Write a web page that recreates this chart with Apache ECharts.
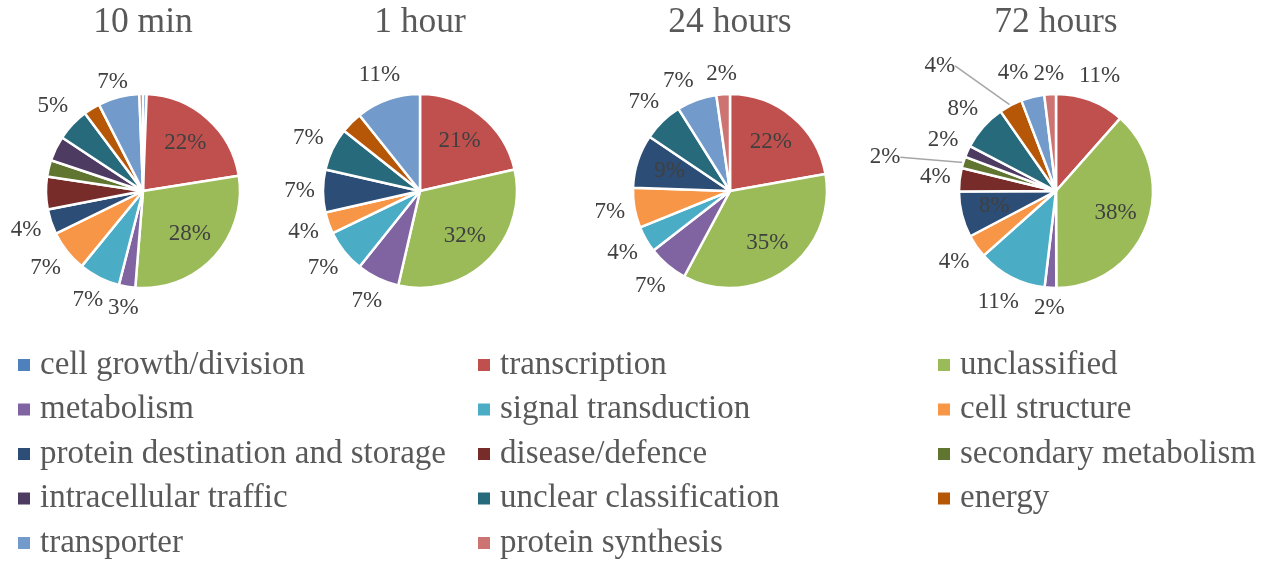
<!DOCTYPE html>
<html><head><meta charset="utf-8">
<script src="https://cdn.jsdelivr.net/npm/echarts@6/dist/echarts.min.js"></script>
<style>html,body{margin:0;padding:0;background:#fff}#c{width:1275px;height:562px}</style>
</head><body><div id="c"></div>
<script>
// ---- data ----
const categories = ['cell growth/division','transcription','unclassified','metabolism','signal transduction','cell structure','protein destination and storage','disease/defence','secondary metabolism','intracellular traffic','unclear classification','energy','transporter','protein synthesis'];
const pieTitles = ['10 min','1 hour','24 hours','72 hours'];
const values10min   = [0.6, 21.6, 28.4, 2.7, 6.8, 6.8, 4.1, 5.4, 2.7, 4.1, 5.4, 2.7, 6.8, 0.6];
const values1hour   = [0, 21.4, 32.1, 7.1, 7.1, 3.6, 7.1, 0, 0, 0, 7.1, 3.6, 10.7, 0];
const values24hours = [0, 21.7, 34.8, 6.5, 4.3, 6.5, 8.7, 0, 0, 0, 6.5, 0, 6.5, 2.2];
const values72hours = [0, 11.3, 37.7, 1.9, 11.3, 3.8, 7.5, 3.8, 1.9, 1.9, 7.5, 3.8, 3.8, 1.9];
const pieValues = [values10min, values1hour, values24hours, values72hours];

// ---- style ----
const colors = ['#4F81BD','#C0504D','#9BBB59','#8064A2','#4BACC6','#F79646','#2C4D75','#772C2A','#5F7530','#4D3B62','#276A7C','#B65708','#729ACA','#CD7371'];
const centersX = [143, 420, 730, 1056];
const centerY = 191, R = 97, LABEL_GAP = 8;
const insideLabels = [[1,2],[1,2],[1,2,6],[2,6]];
const hiddenLabels = [[0,7,8,9,11,13],[11],[],[]];
// label nudges: pie index -> category index -> {extra distance, angle shift, leader line}
const labelNudges = [
  {12:{extra:-7, rot:-1}},
  {},
  {12:{extra:0, rot:-5}},
  {8:{extra:52, rot:-6, line:true}, 11:{extra:47, rot:-15, line:true}, 12:{extra:5, rot:-6}}
];
const FONT = 'Liberation Serif';
const fmt = p => Math.round(p.value) + '%';

const series = [];
const overlays = [];
pieValues.forEach((vals, p) => {
  const main = [], over = [];
  categories.forEach((name, i) => {
    if (!(vals[i] > 0)) return;
    const inside = insideLabels[p].includes(i);
    const hidden = hiddenLabels[p].includes(i);
    const nd = labelNudges[p][i];
    main.push({
      name, value: vals[i], cat: i,
      itemStyle: {color: colors[i]},
      label: {show: !inside && !hidden},
      labelLine: {show: true, lineStyle: {opacity: nd && nd.line ? 1 : 0}}
    });
    over.push({
      name, value: vals[i],
      itemStyle: {color: 'rgba(0,0,0,0)', borderWidth: 0},
      label: {show: inside}
    });
  });
  series.push({
    type: 'pie', center: [centersX[p], centerY], radius: [0, R], startAngle: 90,
    avoidLabelOverlap: false, animation: false,
    itemStyle: {borderColor: '#fff', borderWidth: 2.5},
    label: {position: 'outside', formatter: fmt, fontFamily: FONT, fontSize: 23, color: '#404040'},
    labelLine: {show: true, length: 5, length2: 0, smooth: false, lineStyle: {color: '#a6a6a6', width: 1.5}},
    emphasis: {disabled: true},
    labelLayout: function (params) {
      const pts = params.labelLinePoints;
      if (!pts) return {};
      const cx = centersX[p], cy = centerY;
      let th = Math.atan2(pts[0][0] - cx, -(pts[0][1] - cy));
      const cat = main[params.dataIndex].cat;
      const nd = labelNudges[p][cat];
      let extra = 0;
      if (nd) { th += nd.rot * Math.PI / 180; extra = nd.extra; }
      const dx = Math.sin(th), dy = -Math.cos(th);
      const w = params.labelRect.width, h = params.labelRect.height;
      const d = R + LABEL_GAP + extra + Math.abs(dx) * w / 2 + Math.abs(dy) * h / 2;
      return {x: cx + dx * d, y: cy + dy * d, align: 'center', verticalAlign: 'middle'};
    },
    data: main
  });
  overlays.push({
    type: 'pie', center: [centersX[p], centerY], radius: [R * 0.25, R], startAngle: 90,
    silent: true, animation: false, legendHoverLink: false,
    label: {position: 'inside', formatter: fmt, fontFamily: FONT, fontSize: 23, color: '#404040'},
    labelLine: {show: false},
    emphasis: {disabled: true},
    data: over
  });
});

const legendLeft = [16, 476, 936];
const option = {
  backgroundColor: '#fff',
  graphic: pieTitles.map((t, p) => ({
    type: 'text', x: centersX[p], y: 22.5,
    style: {text: t, align: 'center', verticalAlign: 'middle', fontFamily: FONT, fontSize: 35.5, fill: '#595959'}
  })),
  legend: [0, 1, 2].map(col => ({
    orient: 'vertical', left: legendLeft[col], top: 348.5, padding: 0,
    data: categories.filter((_, i) => i % 3 === col),
    icon: 'rect', itemWidth: 14, itemHeight: 14, itemGap: 11.5,
    selectedMode: false,
    textStyle: {fontFamily: FONT, fontSize: 33, color: '#595959', lineHeight: 33, padding: [0, 0, 0, 4]}
  })),
  series: series.concat(overlays)
};
const chart = echarts.init(document.getElementById('c'), null, {renderer: 'canvas'});
chart.setOption(option);
</script></body></html>
